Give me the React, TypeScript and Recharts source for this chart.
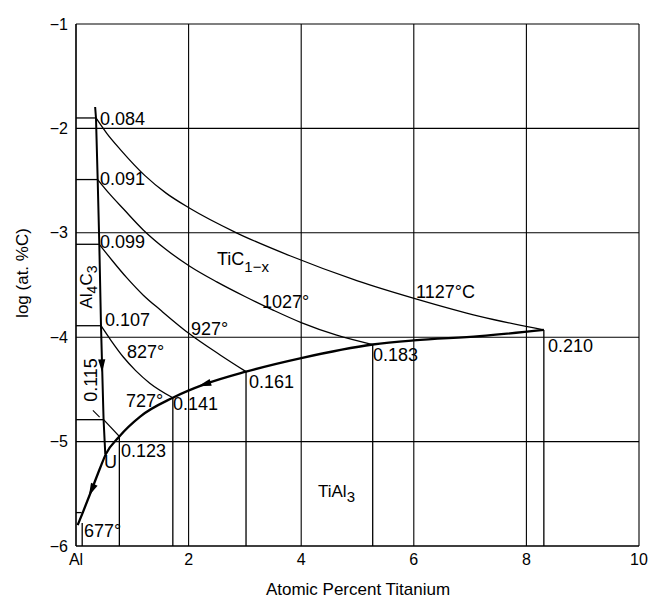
import React from 'react';
import {
  ComposedChart,
  Line,
  XAxis,
  YAxis,
  CartesianGrid,
  ReferenceLine,
  ReferenceDot,
} from 'recharts';

// ---- tick values ----
const xTicks = [0, 2, 4, 6, 8, 10];
const yTicks = [-6, -5, -4, -3, -2, -1];

// ---- isotherms (log at.%C vs at.% Ti) ----
const iso1127 = [
  { x: 0.355, y: -1.9 }, { x: 0.55, y: -2.05 }, { x: 0.8, y: -2.21 }, { x: 1.22, y: -2.45 },
  { x: 1.6, y: -2.62 }, { x: 2.02, y: -2.765 }, { x: 2.85, y: -3.0 }, { x: 3.8, y: -3.22 },
  { x: 5.0, y: -3.46 }, { x: 6.02, y: -3.63 }, { x: 7.17, y: -3.8 }, { x: 8.31, y: -3.93 },
];
const iso1027 = [
  { x: 0.385, y: -2.49 }, { x: 0.6, y: -2.63 }, { x: 0.84, y: -2.77 }, { x: 1.19, y: -2.97 },
  { x: 1.6, y: -3.16 }, { x: 2.02, y: -3.32 }, { x: 2.5, y: -3.47 }, { x: 3.0, y: -3.61 },
  { x: 3.5, y: -3.74 }, { x: 4.0, y: -3.86 }, { x: 4.63, y: -3.98 }, { x: 5.27, y: -4.07 },
];
const iso927 = [
  { x: 0.414, y: -3.11 }, { x: 0.65, y: -3.27 }, { x: 0.9, y: -3.43 }, { x: 1.2, y: -3.6 },
  { x: 1.5, y: -3.74 }, { x: 2.02, y: -3.97 }, { x: 2.56, y: -4.17 }, { x: 3.02, y: -4.33 },
];
const iso827 = [
  { x: 0.444, y: -3.89 }, { x: 0.62, y: -4.03 }, { x: 0.84, y: -4.19 }, { x: 1.06, y: -4.32 },
  { x: 1.31, y: -4.44 }, { x: 1.72, y: -4.58 },
];
const iso727 = [
  { x: 0.49, y: -4.79 }, { x: 0.77, y: -4.95 },
];

// ---- Al4C3 boundary ----
const al4c3Line = [
  { x: 0.34, y: -1.795 }, { x: 0.355, y: -1.9 }, { x: 0.385, y: -2.49 }, { x: 0.414, y: -3.11 },
  { x: 0.444, y: -3.89 }, { x: 0.49, y: -4.79 }, { x: 0.52, y: -5.12 },
];

// ---- monovariant (bold) curve ----
const troughCurve = [
  { x: 0.03, y: -5.8 }, { x: 0.12, y: -5.68 }, { x: 0.28, y: -5.46 }, { x: 0.43, y: -5.25 },
  { x: 0.53, y: -5.12 }, { x: 0.77, y: -4.95 }, { x: 1.14, y: -4.76 }, { x: 1.72, y: -4.58 },
  { x: 2.29, y: -4.45 }, { x: 3.02, y: -4.33 }, { x: 4.0, y: -4.2 }, { x: 5.27, y: -4.07 },
  { x: 6.0, y: -4.03 }, { x: 7.17, y: -3.99 }, { x: 8.31, y: -3.93 },
];

// ---- tie lines ----
const verticalTies = [
  { x: 0.77, y: -4.95 }, { x: 1.72, y: -4.58 }, { x: 3.02, y: -4.33 },
  { x: 5.27, y: -4.07 }, { x: 8.31, y: -3.93 }, { x: 0.11, y: -5.78 },
];
const horizontalStubs = [
  { y: -1.9, x2: 0.355 }, { y: -2.49, x2: 0.385 }, { y: -3.11, x2: 0.414 },
  { y: -3.89, x2: 0.444 }, { y: -4.79, x2: 0.49 }, { y: -5.68, x2: 0.1 },
];
const leader115 = [{ x: 0.3, y: -4.7 }, { x: 0.42, y: -4.765 }];

// ---- arrowheads (position + direction in degrees on screen) ----
const arrows = [
  { x: 0.46, y: -4.27, angle: 88 },
  { x: 2.29, y: -4.45, angle: 163 },
  { x: 0.28, y: -5.46, angle: 115 },
];

const FONT = '"Liberation Sans", Arial, Helvetica, sans-serif';

const ArrowHead = (props: any) => {
  const { cx, cy, angle } = props;
  if (cx == null || cy == null) return null;
  return (
    <polygon
      points="7,0 -6,-3.6 -6,3.6"
      fill="#000"
      transform={`translate(${cx},${cy}) rotate(${angle})`}
    />
  );
};

const fmtY = (v: number) => (v < 0 ? '\u2212' + Math.abs(v) : String(v));
const fmtX = (v: number) => (v === 0 ? 'Al' : String(v));

const thin = { stroke: '#000', strokeWidth: 1.3, fill: 'none' };

export default function App() {
  return (
    <div style={{ position: 'absolute', left: 0, top: 0, width: 653, height: 601, background: '#fff' }}>
      <ComposedChart
        width={653}
        height={601}
        margin={{ top: 24, right: 14, bottom: 25, left: 16 }}
        style={{ fontFamily: FONT }}
      >
        <CartesianGrid stroke="#000" strokeWidth={1.1} horizontalValues={yTicks} verticalValues={xTicks} />
        <XAxis
          type="number"
          dataKey="x"
          domain={[0, 10]}
          ticks={xTicks}
          tickFormatter={fmtX}
          tickLine={false}
          axisLine={{ stroke: '#000', strokeWidth: 1.2 }}
          tick={{ fill: '#000', fontSize: 16, fontFamily: FONT }}
          height={30}
          allowDataOverflow
        />
        <YAxis
          type="number"
          dataKey="y"
          domain={[-6, -1]}
          ticks={yTicks}
          tickFormatter={fmtY}
          tickLine={false}
          axisLine={{ stroke: '#000', strokeWidth: 1.2 }}
          tick={{ fill: '#000', fontSize: 16, fontFamily: FONT }}
          width={60}
          allowDataOverflow
        />

        {verticalTies.map((t, i) => (
          <ReferenceLine
            key={'v' + i}
            segment={[{ x: t.x, y: t.y }, { x: t.x, y: -6 }]}
            stroke="#000"
            strokeWidth={1.3}
            ifOverflow="visible"
          />
        ))}
        {horizontalStubs.map((s, i) => (
          <ReferenceLine
            key={'h' + i}
            segment={[{ x: 0, y: s.y }, { x: s.x2, y: s.y }]}
            stroke="#000"
            strokeWidth={1.3}
            ifOverflow="visible"
          />
        ))}
        <ReferenceLine segment={leader115} stroke="#000" strokeWidth={1.1} ifOverflow="visible" />

        <Line data={iso1127} dataKey="y" type="monotone" dot={false} {...thin} isAnimationActive={false} />
        <Line data={iso1027} dataKey="y" type="monotone" dot={false} {...thin} isAnimationActive={false} />
        <Line data={iso927} dataKey="y" type="monotone" dot={false} {...thin} isAnimationActive={false} />
        <Line data={iso827} dataKey="y" type="monotone" dot={false} {...thin} isAnimationActive={false} />
        <Line data={iso727} dataKey="y" type="linear" dot={false} {...thin} isAnimationActive={false} />
        <Line data={al4c3Line} dataKey="y" type="linear" dot={false} stroke="#000" strokeWidth={2} isAnimationActive={false} />
        <Line data={troughCurve} dataKey="y" type="monotone" dot={false} stroke="#000" strokeWidth={2.3} isAnimationActive={false} />

        {arrows.map((a, i) => (
          <ReferenceDot
            key={'a' + i}
            x={a.x}
            y={a.y}
            r={6}
            ifOverflow="visible"
            shape={(p: any) => <ArrowHead cx={p.cx} cy={p.cy} angle={a.angle} />}
          />
        ))}
      </ComposedChart>

      <svg
        width={653}
        height={601}
        style={{ position: 'absolute', left: 0, top: 0, pointerEvents: 'none' }}
        fontFamily={FONT}
        fill="#000"
      >
        <g fontSize={18}>
          <text x={100} y={125}>0.084</text>
          <text x={100} y={185}>0.091</text>
          <text x={100} y={248}>0.099</text>
          <text x={105} y={326}>0.107</text>
          <text x={127} y={358}>827°</text>
          <text x={126} y={407}>727°</text>
          <text x={173} y={410}>0.141</text>
          <text x={121} y={457}>0.123</text>
          <text x={104} y={468}>U</text>
          <text x={84} y={537}>677°</text>
          <text x={191} y={335}>927°</text>
          <text x={249} y={388}>0.161</text>
          <text x={262} y={308}>1027°</text>
          <text x={416} y={298}>1127°C</text>
          <text x={373} y={361}>0.183</text>
          <text x={548} y={352}>0.210</text>
          <text x={97} y={380} textAnchor="middle" transform="rotate(-90 97 380)">0.115</text>
        </g>
        <text x={217} y={265} fontSize={18}>
          TiC
          <tspan fontSize={15} dy={7}>1−x</tspan>
        </text>
        <text x={318} y={497} fontSize={17}>
          TiAl
          <tspan fontSize={15} dy={5}>3</tspan>
        </text>
        <text x={92} y={287} fontSize={17} textAnchor="middle" transform="rotate(-90 92 287)">
          Al<tspan fontSize={14} dy={5}>4</tspan><tspan dy={-5}>C</tspan><tspan fontSize={14} dy={5}>3</tspan>
        </text>
        <text x={28} y={273} fontSize={17} textAnchor="middle" transform="rotate(-90 28 273)">
          log (at. %C)
        </text>
        <text x={358} y={595} fontSize={17} textAnchor="middle">
          Atomic Percent Titanium
        </text>
      </svg>
    </div>
  );
}
